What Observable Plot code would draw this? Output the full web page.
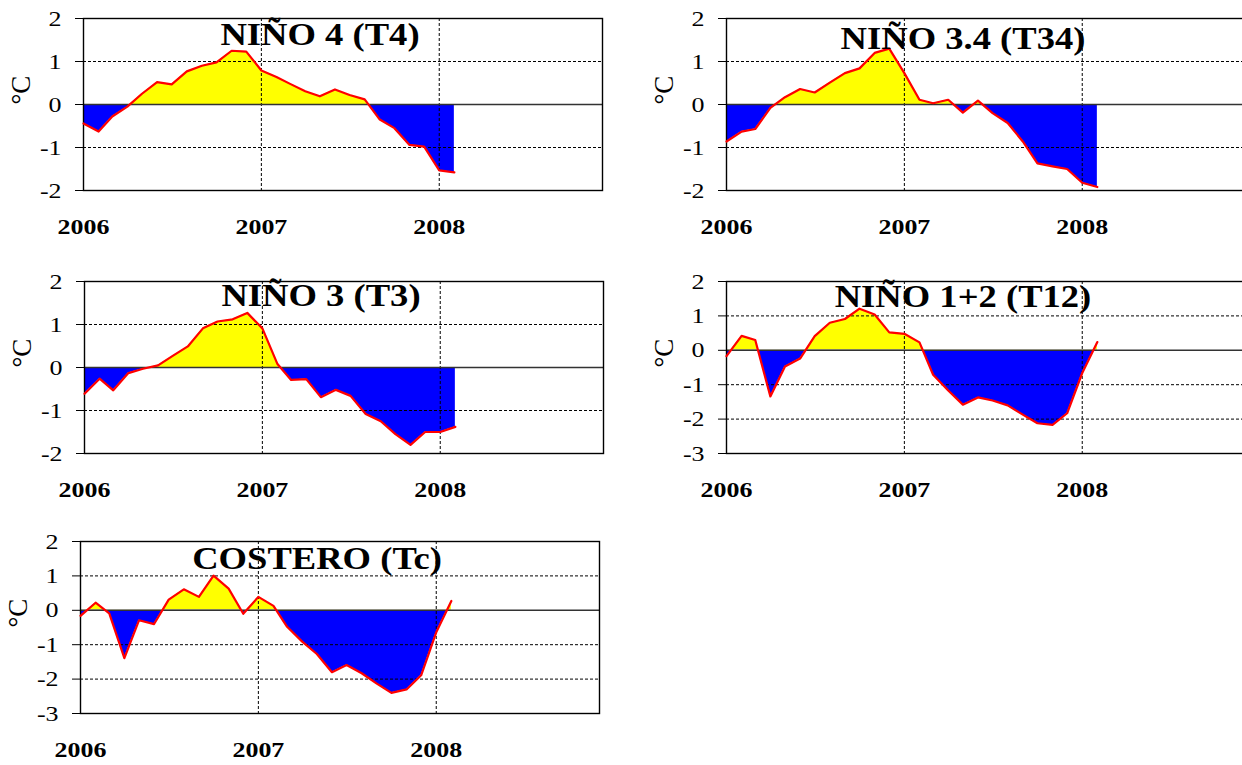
<!DOCTYPE html>
<html>
<head>
<meta charset="utf-8">
<script src="https://cdn.jsdelivr.net/npm/d3@7"></script>
<script src="https://cdn.jsdelivr.net/npm/@observablehq/plot@0.6"></script>
<style>
  html, body { margin: 0; padding: 0; background: #fff; width: 1242px; height: 765px; overflow: hidden; }
  #root { position: relative; width: 1242px; height: 765px; }
  .panel { position: absolute; width: 620px; height: 255px; }
  .panel svg { max-width: none !important; }
</style>
</head>
<body>
<div id="root"></div>
<script>
// ---- data ----
const months = ["2006-01","2006-02","2006-03","2006-04","2006-05","2006-06","2006-07","2006-08","2006-09","2006-10","2006-11","2006-12",
                "2007-01","2007-02","2007-03","2007-04","2007-05","2007-06","2007-07","2007-08","2007-09","2007-10","2007-11","2007-12",
                "2008-01","2008-02"];
const nino4   = [-0.44,-0.63,-0.28,-0.05,0.25,0.52,0.47,0.77,0.90,0.98,1.25,1.23,0.79,0.64,0.48,0.31,0.19,0.35,0.22,0.12,-0.35,-0.55,-0.94,-0.98,-1.53,-1.58];
const nino34  = [-0.86,-0.63,-0.57,-0.08,0.17,0.36,0.28,0.51,0.73,0.84,1.20,1.30,0.73,0.11,0.03,0.11,-0.19,0.09,-0.20,-0.43,-0.86,-1.37,-1.44,-1.50,-1.82,-1.92];
const nino3   = [-0.61,-0.26,-0.53,-0.13,-0.03,0.05,0.27,0.49,0.91,1.07,1.12,1.27,0.91,0.08,-0.29,-0.27,-0.69,-0.52,-0.66,-1.08,-1.25,-1.55,-1.80,-1.50,-1.50,-1.38];
const nino12  = [-0.17,0.42,0.30,-1.34,-0.47,-0.24,0.41,0.80,0.91,1.21,1.04,0.52,0.48,0.23,-0.71,-1.17,-1.58,-1.37,-1.46,-1.60,-1.87,-2.12,-2.17,-1.83,-0.66,0.24];
const costero = [-0.16,0.22,-0.09,-1.39,-0.29,-0.40,0.31,0.61,0.39,1.01,0.63,-0.10,0.39,0.13,-0.48,-0.91,-1.27,-1.80,-1.59,-1.83,-2.13,-2.40,-2.30,-1.89,-0.64,0.27];
const titles = ["NIÑO 4 (T4)", "NIÑO 3.4 (T34)", "NIÑO 3 (T3)", "NIÑO 1+2 (T12)", "COSTERO (Tc)"];
const yearLabels = ["2006", "2007", "2008"];
const yTicksA = [2, 1, 0, -1, -2];
const yTicksB = [2, 1, 0, -1, -2, -3];
const yUnit = "°C";

// ---- layout ----
const W = 620, H = 255;
const panels = [
  {title: titles[0], values: nino4,   ticks: yTicksA, left: 0,   top: 0,   tdy: 4},
  {title: titles[1], values: nino34,  ticks: yTicksA, left: 643, top: 0,   tdy: 8},
  {title: titles[2], values: nino3,   ticks: yTicksA, left: 1,   top: 263, tdy: 2},
  {title: titles[3], values: nino12,  ticks: yTicksB, left: 643, top: 263, tdy: 3},
  {title: titles[4], values: costero, ticks: yTicksB, left: -3,  top: 523, tdy: 5}
];

const parseMonth = d3.utcParse("%Y-%m");
const yearDates = yearLabels.map(y => d3.utcParse("%Y")(y));
const xDomain = [parseMonth("2006-01"), parseMonth("2008-12")];
const serif = '"Liberation Serif", "Times New Roman", "DejaVu Serif", serif';
const root = document.getElementById("root");

panels.forEach((p, k) => {
  const data = months.map((m, i) => ({date: parseMonth(m), v: p.values[i]}));
  const yDomain = [d3.min(p.ticks), d3.max(p.ticks)];
  const inner = p.ticks.filter(t => t !== 0 && t > yDomain[0] && t < yDomain[1]);
  const plot = Plot.plot({
    width: W, height: H,
    marginLeft: 83, marginRight: 18, marginTop: 18, marginBottom: 65,
    style: {fontFamily: serif, background: "transparent", overflow: "visible", color: "#000", maxWidth: "none"},
    x: {type: "utc", domain: xDomain},
    y: {domain: yDomain},
    marks: [
      Plot.areaY(data, {x: "date", y1: 0, y2: "v", fill: "#ffff00"}),
      Plot.areaY(data, {x: "date", y1: 0, y2: "v", fill: "#0000ff"}),
      Plot.ruleY(inner, {stroke: "#000", strokeWidth: 1, strokeDasharray: "3,2"}),
      Plot.ruleX(yearDates.slice(1), {stroke: "#000", strokeWidth: 1, strokeDasharray: "3,2"}),
      Plot.ruleY([0], {stroke: "#333", strokeWidth: 1.5}),
      Plot.frame({stroke: "#000", strokeWidth: 1.4}),
      Plot.line(data, {x: "date", y: "v", stroke: "#ff0000", strokeWidth: 2.2}),
      Plot.axisY({ticks: p.ticks, tickSize: 8, tickPadding: 14, fontSize: 22, label: null, stroke: "#000",
                  tickFormat: d => d < 0 ? "-" + (-d) : String(d)}),
      Plot.axisX({ticks: yearDates, tickSize: 0, tickPadding: 28, fontSize: 22, fontWeight: "bold", label: null,
                  tickFormat: d3.utcFormat("%Y")}),
      Plot.text([p.title], {text: d => d, frameAnchor: "top", lineAnchor: "top", dx: -23, dy: p.tdy,
                            fontSize: 31, fontWeight: "bold"}),
      Plot.text([yUnit], {text: d => d, frameAnchor: "left", rotate: -90, dx: -62, fontSize: 27})
    ]
  });
  const div = document.createElement("div");
  div.className = "panel";
  div.style.left = p.left + "px";
  div.style.top = p.top + "px";
  div.appendChild(plot);
  root.appendChild(div);

  // clip the two fills to the positive / negative halves
  const y0 = plot.scale("y").apply(0);
  const svg = d3.select(plot);
  const defs = svg.insert("defs", ":first-child");
  const id = "clip" + k;
  defs.append("clipPath").attr("id", id + "p").append("rect")
      .attr("x", 0).attr("y", 0).attr("width", W).attr("height", y0);
  defs.append("clipPath").attr("id", id + "n").append("rect")
      .attr("x", 0).attr("y", y0).attr("width", W).attr("height", H - y0);
  const areas = svg.selectAll('g[aria-label="area"]').nodes();
  areas[0].setAttribute("clip-path", `url(#${id}p)`);
  areas[1].setAttribute("clip-path", `url(#${id}n)`);

  // the reference is horizontally stretched: widen glyphs of unrotated text
  plot.querySelectorAll("text").forEach(t => {
    const tr = t.getAttribute("transform") || "";
    if (tr.includes("rotate")) return;
    const w = t.getComputedTextLength();
    if (w > 0) {
      t.setAttribute("textLength", (w * 1.18).toFixed(1));
      t.setAttribute("lengthAdjust", "spacingAndGlyphs");
    }
  });
});
</script>
</body>
</html>
